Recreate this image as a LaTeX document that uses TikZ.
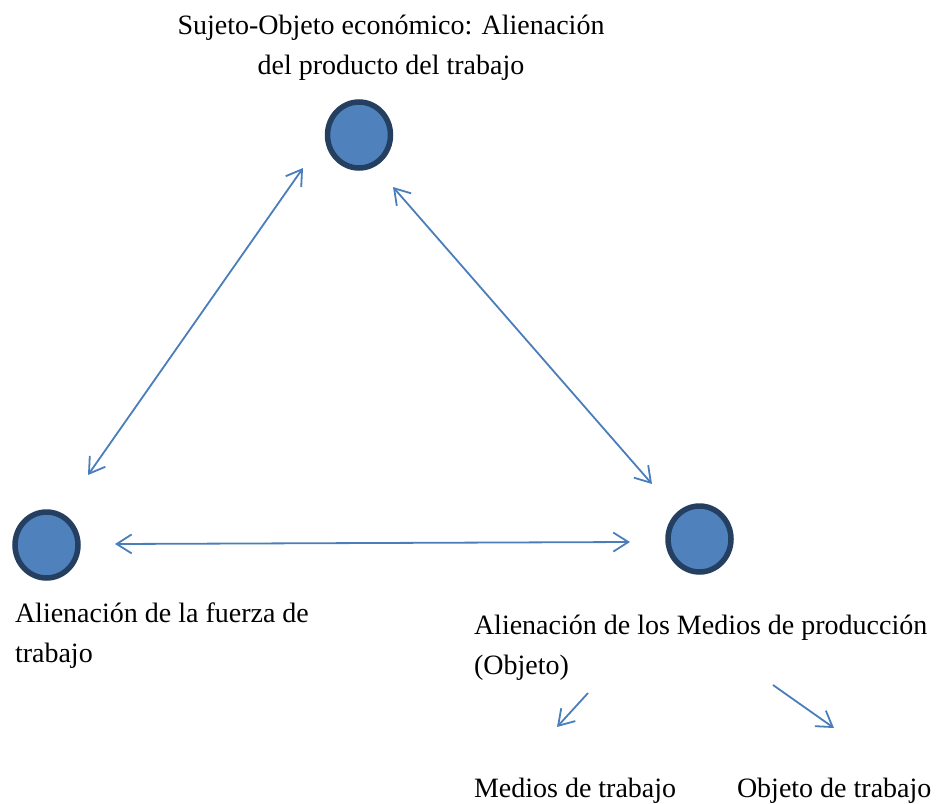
\documentclass[tikz,border=0pt]{standalone}
\usepackage{fontspec}
\setmainfont{Liberation Serif}
\usetikzlibrary{arrows.meta,shapes.geometric}
\definecolor{linkblue}{HTML}{4A7EBB}
\definecolor{ballfill}{HTML}{4F81BD}
\definecolor{balledge}{HTML}{243F60}
\tikzset{
  ball/.style={ellipse, draw=balledge, fill=ballfill, line width=5.5pt, inner sep=0pt, minimum width=63pt, minimum height=66pt},
  lbl/.style={inner sep=0pt, outer sep=0pt, font=\fontsize{28}{39.5}\selectfont, text=black},
  arr/.style={draw=linkblue, line width=1.8pt, -{Straight Barb[length=15pt,width=19pt,line width=1.8pt]}},
  darr/.style={draw=linkblue, line width=1.8pt, {Straight Barb[length=15pt,width=19pt,line width=1.8pt]}-{Straight Barb[length=15pt,width=19pt,line width=1.8pt]}}
}
\begin{document}
\begin{tikzpicture}[x=1pt,y=-1pt]
\useasboundingbox (0,0) rectangle (939,803);
% circles
\node[ball] (T) at (359,135) {};
\node[ball] (L) at (46.5,545) {};
\node[ball] (R) at (699.5,539) {};
% labels (base = baseline of last line)
\node[lbl, anchor=base, align=center] (Tl) at (391,74) {Sujeto-Objeto económico: Alienación\\del producto del trabajo};
\node[lbl, anchor=base west, align=left] (Ll) at (15,662) {Alienación de la fuerza de\\trabajo};
\node[lbl, anchor=base west, align=left] (M) at (474,674) {Alienación de los Medios de producción\\(Objeto)};
\node[lbl, anchor=base west] (MT) at (474,797) {Medios de trabajo};
\node[lbl, anchor=base west] (OT) at (737,797) {Objeto de trabajo};
% connectors
\draw[darr] ([shift={(41.5,-70)}]L.center) -- ([shift={(-56,33)}]T.center);
\draw[darr] ([shift={(34,52)}]T.center) -- ([shift={(-47.5,-55)}]R.center);
\draw[darr] ([shift={(68.5,-1)}]L.center) -- ([shift={(-69.5,3)}]R.center);
\draw[arr] ([shift={(114,19)}]M.base west) -- ([shift={(83,-70)}]MT.base west);
\draw[arr] ([shift={(299,11)}]M.base west) -- ([shift={(97,-69)}]OT.base west);
\end{tikzpicture}
\end{document}
